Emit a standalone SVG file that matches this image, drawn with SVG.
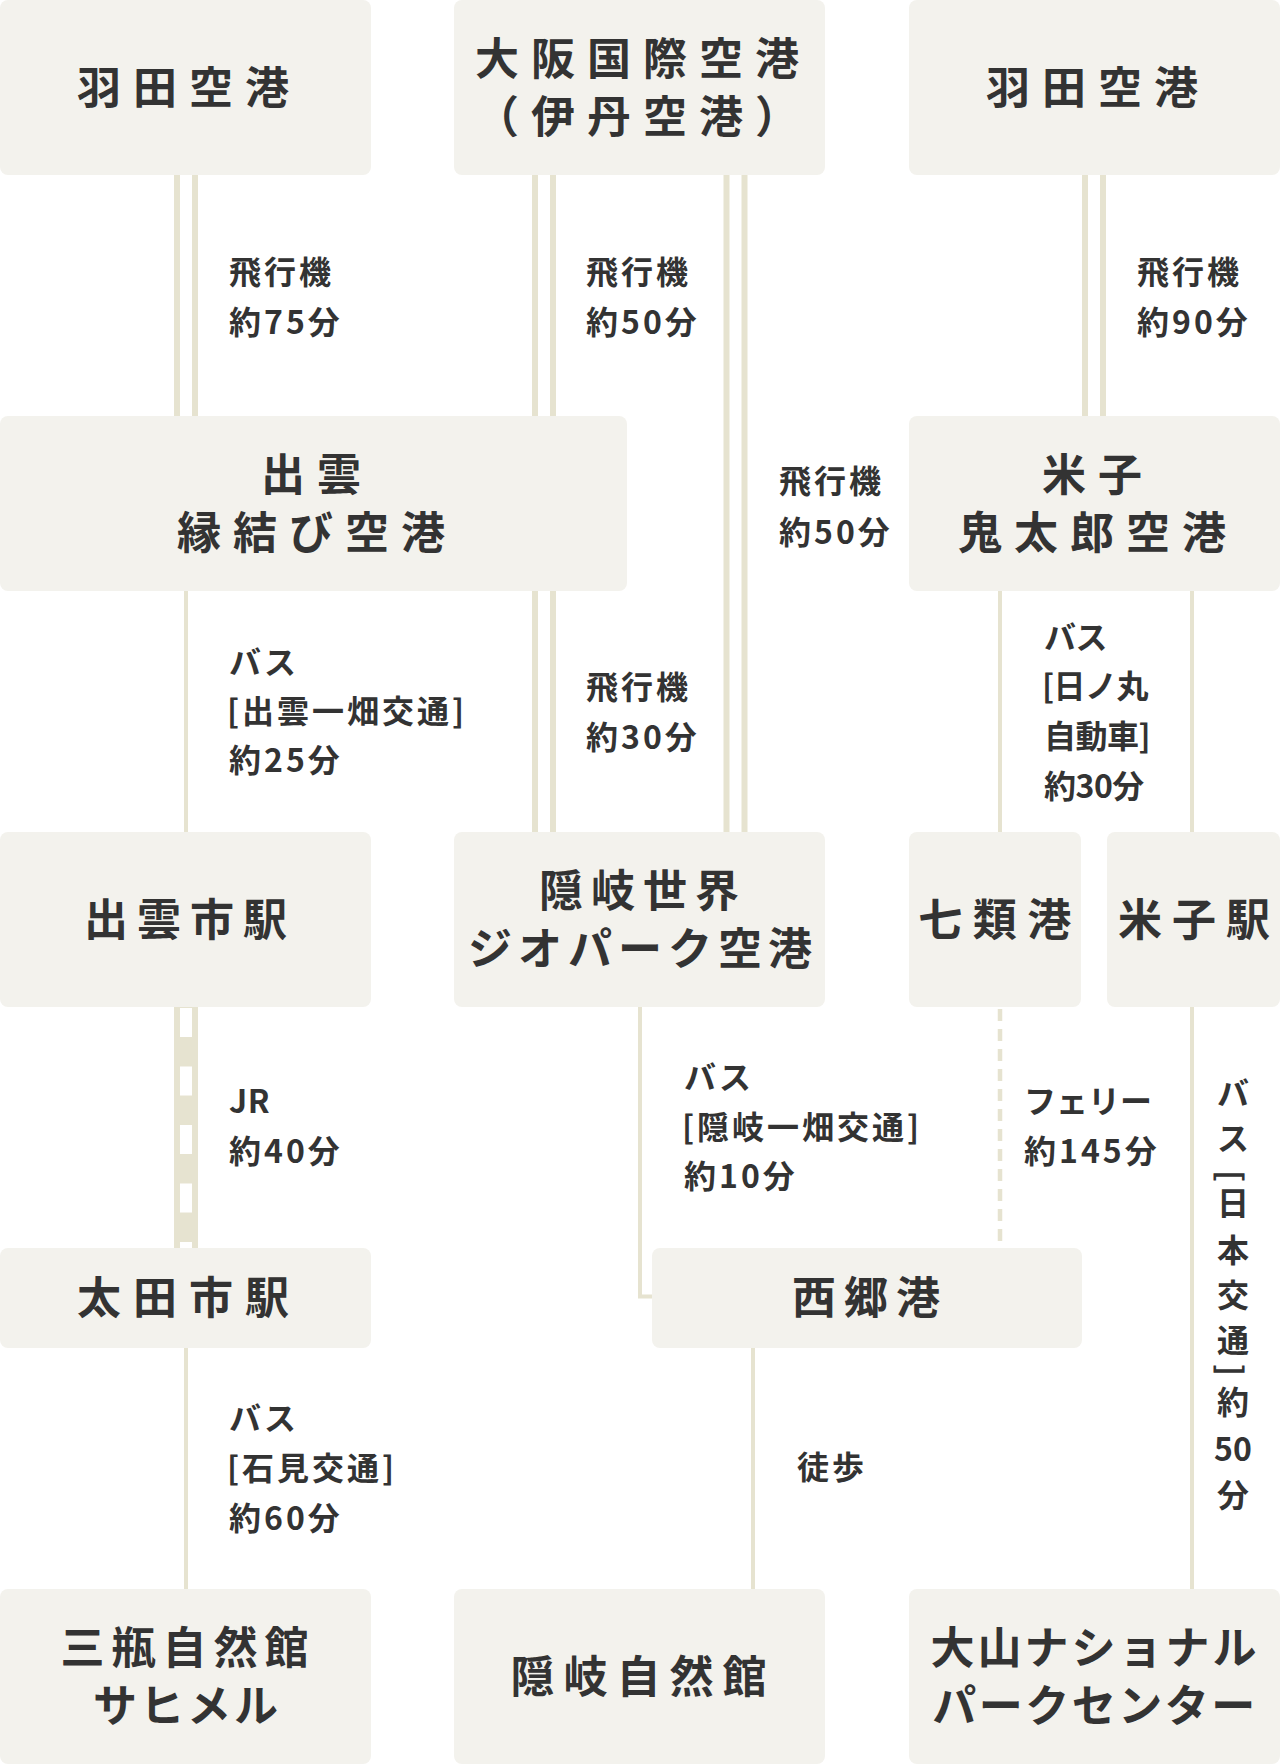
<svg xmlns="http://www.w3.org/2000/svg" width="1280" height="1764" viewBox="0 0 1280 1764">
<defs>
<style>
.box{fill:#f3f2ed}
.t{font-family:"Noto Sans CJK JP","Noto Sans",sans-serif;font-weight:700;font-size:44px;letter-spacing:12px;fill:#333;text-anchor:middle}
.l{font-family:"Noto Sans CJK JP","Noto Sans",sans-serif;font-weight:700;font-size:32px;letter-spacing:3px;fill:#333}
.rail{stroke:#e6e3d0;stroke-width:6;fill:none}
.one{stroke:#e6e3d0;stroke-width:4;fill:none}
.ferry{stroke:#e6e3d0;stroke-width:4.5;fill:none;stroke-dasharray:12 8;stroke-linecap:butt}
.jr{fill:#e6e3d0}
.jrw{stroke:#fff;stroke-width:12;stroke-dasharray:29 29.5;fill:none}
</style>
</defs>
<rect width="1280" height="1764" fill="#fff"/>
<g id="connectors">
<path class="rail" d="M177 175V416M195 175V416"/>
<path class="rail" d="M535 175V416M553 175V416"/>
<path class="rail" d="M726.5 175V832M744.5 175V832"/>
<path class="rail" d="M1085 175V416M1103 175V416"/>
<path class="one" d="M186 591V832"/>
<path class="rail" d="M535 591V832M553 591V832"/>
<path class="one" d="M1000 591V832"/>
<path class="one" d="M1192 591V832"/>
<rect class="jr" x="174" y="1007" width="24" height="241"/>
<path class="jrw" d="M186 1008V1248"/>
<path class="one" d="M640 1007V1296.5H652"/>
<path class="ferry" d="M1000 1009V1248"/>
<path class="one" d="M1192 1007V1589"/>
<path class="one" d="M186 1348V1589"/>
<path class="one" d="M753 1348V1589"/>
</g>
<g id="labels">
<text class="l" x="229"><tspan x="229" y="284">飛行機</tspan><tspan x="229" y="334">約75分</tspan></text>
<text class="l"><tspan x="586" y="284">飛行機</tspan><tspan x="586" y="334">約50分</tspan></text>
<text class="l"><tspan x="1137" y="284">飛行機</tspan><tspan x="1137" y="334">約90分</tspan></text>
<text class="l"><tspan x="779" y="493">飛行機</tspan><tspan x="779" y="544">約50分</tspan></text>
<text class="l"><tspan x="229" y="674">バス</tspan><tspan x="227" y="723">[出雲一畑交通]</tspan><tspan x="229" y="772">約25分</tspan></text>
<text class="l"><tspan x="586" y="699">飛行機</tspan><tspan x="586" y="749">約30分</tspan></text>
<text class="l" style="letter-spacing:-0.5px"><tspan x="1044" y="649">バス</tspan><tspan x="1042" y="698">[日ノ丸</tspan><tspan x="1044" y="748">自動車]</tspan><tspan x="1044" y="798">約30分</tspan></text>
<text class="l"><tspan x="229" y="1113" style="letter-spacing:0.5px">JR</tspan><tspan x="229" y="1163">約40分</tspan></text>
<text class="l"><tspan x="684" y="1089">バス</tspan><tspan x="682" y="1139">[隠岐一畑交通]</tspan><tspan x="684" y="1188">約10分</tspan></text>
<text class="l"><tspan x="1024" y="1113" style="letter-spacing:0">フェリー</tspan><tspan x="1024" y="1163">約145分</tspan></text>
<text class="l"><tspan x="229" y="1430">バス</tspan><tspan x="227" y="1480">[石見交通]</tspan><tspan x="229" y="1530">約60分</tspan></text>
<text class="l" x="797" y="1479">徒歩</text>
<g id="label-vertical">
<text class="l" style="letter-spacing:0;text-anchor:middle"><tspan x="1233" y="1105">バ</tspan><tspan x="1233" y="1150">ス</tspan><tspan x="1233" y="1215">日</tspan><tspan x="1233" y="1262">本</tspan><tspan x="1233" y="1307">交</tspan><tspan x="1233" y="1352">通</tspan><tspan x="1233" y="1414">約</tspan><tspan x="1233" y="1461">50</tspan><tspan x="1233" y="1507">分</tspan></text>
<text class="l" style="letter-spacing:0;text-anchor:middle;dominant-baseline:central" x="1233" y="1176" transform="rotate(90 1233 1176)">[</text>
<text class="l" style="letter-spacing:0;text-anchor:middle;dominant-baseline:central" x="1233" y="1370" transform="rotate(90 1233 1370)">]</text>
</g>
</g>
<g id="n-haneda-l"><rect class="box" x="0" y="0" width="371" height="175" rx="8"/><text class="t" x="189" y="104">羽田空港</text></g>
<g id="n-osaka"><rect class="box" x="454" y="0" width="371" height="175" rx="8"/><text class="t"><tspan x="643" y="75">大阪国際空港</tspan><tspan x="643" y="133">（伊丹空港）</tspan></text></g>
<g id="n-haneda-r"><rect class="box" x="909" y="0" width="371" height="175" rx="8"/><text class="t" x="1098" y="104">羽田空港</text></g>
<g id="n-izumo-airport"><rect class="box" x="0" y="416" width="627" height="175" rx="8"/><text class="t"><tspan x="317" y="491">出雲</tspan><tspan x="317" y="549">縁結び空港</tspan></text></g>
<g id="n-yonago-airport"><rect class="box" x="909" y="416" width="371" height="175" rx="8"/><text class="t"><tspan x="1098" y="491">米子</tspan><tspan x="1098" y="549">鬼太郎空港</tspan></text></g>
<g id="n-izumoshi"><rect class="box" x="0" y="832" width="371" height="175" rx="8"/><text class="t" style="letter-spacing:9px" x="190" y="936">出雲市駅</text></g>
<g id="n-oki-airport"><rect class="box" x="454" y="832" width="371" height="175" rx="8"/><text class="t" style="letter-spacing:6px"><tspan x="643" y="907" style="letter-spacing:8px">隠岐世界</tspan><tspan x="643" y="965">ジオパーク空港</tspan></text></g>
<g id="n-shichirui"><rect class="box" x="909" y="832" width="172" height="175" rx="8"/><text class="t" style="letter-spacing:10.5px" x="1000" y="936">七類港</text></g>
<g id="n-yonago-st"><rect class="box" x="1107" y="832" width="173" height="175" rx="8"/><text class="t" style="letter-spacing:10px" x="1199" y="936">米子駅</text></g>
<g id="n-ota"><rect class="box" x="0" y="1248" width="371" height="100" rx="8"/><text class="t" x="189" y="1314">太田市駅</text></g>
<g id="n-saigo"><rect class="box" x="652" y="1248" width="430" height="100" rx="8"/><text class="t" style="letter-spacing:8px" x="870" y="1314">西郷港</text></g>
<g id="n-sanbe"><rect class="box" x="0" y="1589" width="371" height="175" rx="8"/><text class="t" style="letter-spacing:7px"><tspan x="188" y="1664">三瓶自然館</tspan><tspan x="187" y="1722" style="letter-spacing:3px">サヒメル</tspan></text></g>
<g id="n-oki-museum"><rect class="box" x="454" y="1589" width="371" height="175" rx="8"/><text class="t" style="letter-spacing:9px" x="643" y="1693">隠岐自然館</text></g>
<g id="n-daisen"><rect class="box" x="909" y="1589" width="371" height="175" rx="8"/><text class="t" style="letter-spacing:3px"><tspan x="1095" y="1664">大山ナショナル</tspan><tspan x="1095" y="1722" style="letter-spacing:2.5px">パークセンター</tspan></text></g>
</svg>
